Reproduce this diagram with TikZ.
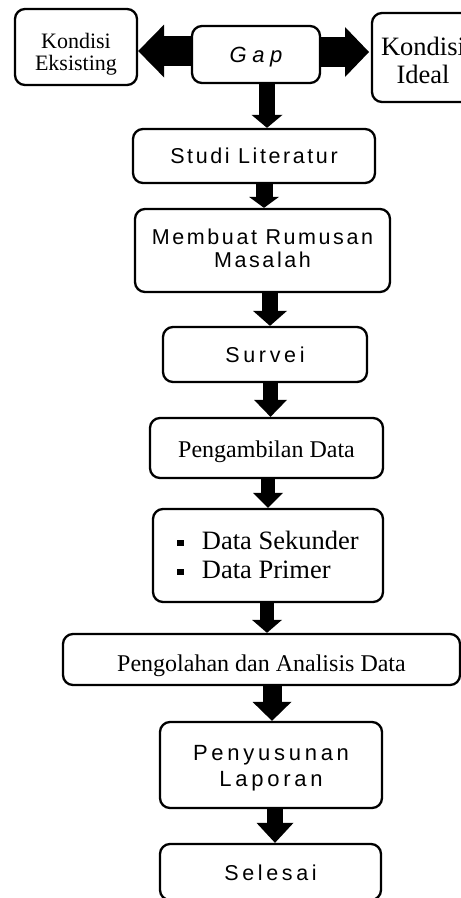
\documentclass[tikz,border=0pt]{standalone}
\usepackage{fontspec}
\setmainfont{Liberation Serif}
\newfontfamily\sansA[LetterSpace=12]{Liberation Sans}
\newfontfamily\sansB[LetterSpace=17]{Liberation Sans}
\newfontfamily\sansG[LetterSpace=25]{Liberation Sans}
\usetikzlibrary{arrows.meta}
\newcommand{\sqbullet}{\rule[3pt]{6.5pt}{6.5pt}\hspace{18pt}}
% lines stacked under the first one; the baseline is that of the first line
\newcommand{\lines}[2][c]{\begin{tabular}[t]{@{}#1@{}}#2\end{tabular}}
\begin{document}
\begin{tikzpicture}[x=1pt, y=-1pt,
  box/.style={draw, line width=2.3pt, rounded corners=10pt, inner sep=0pt, align=center},
  blockarrow/.style n args={3}{line width=#1,
    -{Triangle[length=#3 0 0, width=#2 0 0, line width=0pt 0 0]}},
  fserif/.style={font=\fontsize{24}{27}\selectfont},
  fsans/.style={font=\sansA\fontsize{21.5}{23}\selectfont},
  fsanswide/.style={font=\sansB\fontsize{21.5}{26}\selectfont}]
\useasboundingbox (0,0) rectangle (461,898);
\clip (0,0) rectangle (461,898);

% top row
\node[box, minimum width=122pt, minimum height=76pt,
      font=\fontsize{22}{22}\selectfont, text height=2pt, text depth=0pt]
      (eks) at (76,47) {\lines{Kondisi\\Eksisting}};
\node[box, minimum width=128pt, minimum height=57pt,
      font=\sansG\itshape\fontsize{22}{26}\selectfont, text height=15pt, text depth=0pt]
      (gap) at (256,54.5) {Gap};
\node[box, minimum width=102pt, minimum height=89pt,
      font=\fontsize{26.5}{28}\selectfont, text height=0pt, text depth=5pt]
      (ideal) at (423,57.5) {\lines{Kondisi\\Ideal}};

% main column
\node[box, fsans, minimum width=242pt, minimum height=54pt, text height=14pt, text depth=0pt]
      (studi) at (254,156) {Studi Literatur};
\node[box, fsans, minimum width=255pt, minimum height=83pt, text height=0pt, text depth=13pt]
      (rumusan) at (262.5,250.5) {\lines{Membuat Rumusan\\Masalah}};
\node[box, fsanswide, minimum width=204pt, minimum height=55pt, text height=15pt, text depth=0pt]
      (survei) at (265,354.5) {Survei};
\node[box, fserif, minimum width=233pt, minimum height=60pt, text height=18pt, text depth=0pt]
      (ambil) at (266.5,448) {Pengambilan Data};
\node[box, minimum width=230pt, minimum height=93pt,
      font=\fontsize{26.5}{29}\selectfont, text height=0pt, text depth=13pt]
      (data) at (268,555.5) {\lines[l]{\sqbullet Data Sekunder\hspace{16pt}\\\sqbullet Data Primer}};
\node[box, fserif, minimum width=397pt, minimum height=51pt, text height=23pt, text depth=0pt]
      (olah) at (261.5,659.5) {Pengolahan dan Analisis Data};
\node[box, font=\sansB\fontsize{22}{26}\selectfont, minimum width=222pt, minimum height=86pt,
      text height=0pt, text depth=10pt]
      (susun) at (271,765) {\lines{Penyusunan\\Laporan}};
\node[box, fsanswide, minimum width=221pt, minimum height=56pt, text height=16pt, text depth=0pt]
      (selesai) at (270.5,872) {Selesai};

% x positions of the vertical arrows, y of the horizontal ones
\coordinate (a1) at (267,0);
\coordinate (a2) at (264,0);
\coordinate (a3) at (270,0);
\coordinate (a4) at (270.5,0);
\coordinate (a5) at (268,0);
\coordinate (a6) at (267,0);
\coordinate (a7) at (272,0);
\coordinate (a8) at (275,0);
\coordinate (hl) at (0,51);
\coordinate (hr) at (0,52);
\coordinate (ideal tip) at (369,52);

% horizontal block arrows
\draw[blockarrow={30pt}{53pt}{26pt}] (gap.west |- hl) -- (eks.east |- hl);
\draw[blockarrow={30pt}{50pt}{24pt}] (gap.east |- hr) -- (ideal tip);

% vertical block arrows
\draw[blockarrow={16pt}{31pt}{13pt}] (gap.south -| a1) -- (studi.north -| a1);
\draw[blockarrow={17pt}{30pt}{11pt}] (studi.south -| a2) -- (rumusan.north -| a2);
\draw[blockarrow={16pt}{34pt}{15pt}] (rumusan.south -| a3) -- (survei.north -| a3);
\draw[blockarrow={15pt}{33pt}{17pt}] (survei.south -| a4) -- (ambil.north -| a4);
\draw[blockarrow={14pt}{30pt}{15pt}] (ambil.south -| a5) -- (data.north -| a5);
\draw[blockarrow={14pt}{30pt}{13pt}] (data.south -| a6) -- (olah.north -| a6);
\draw[blockarrow={19pt}{39pt}{19pt}] (olah.south -| a7) -- (susun.north -| a7);
\draw[blockarrow={16pt}{37pt}{20pt}] (susun.south -| a8) -- (selesai.north -| a8);
\end{tikzpicture}
\end{document}
